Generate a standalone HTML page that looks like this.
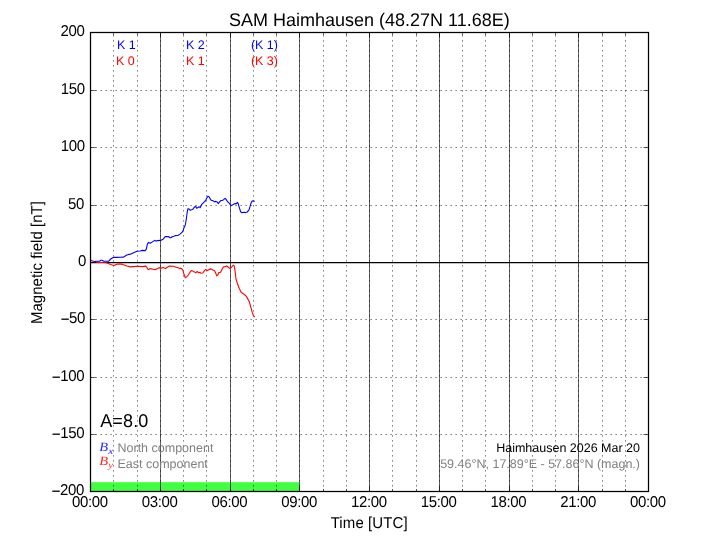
<!DOCTYPE html>
<html><head><meta charset="utf-8"><title>SAM Haimhausen</title>
<style>
html,body{margin:0;padding:0;background:#fff;}
body{width:720px;height:540px;overflow:hidden;position:relative;font-family:"Liberation Sans",sans-serif;}
svg{position:absolute;left:0;top:0;will-change:transform;}
text{font-family:"Liberation Sans",sans-serif;text-rendering:geometricPrecision;}
.m{font-family:"Liberation Serif",serif;font-style:italic;}
</style></head><body>
<svg width="720" height="540" viewBox="0 0 720 540">
<rect x="0" y="0" width="720" height="540" fill="#fff"/>
<rect x="90.0" y="482.2" width="209.25" height="9.30" fill="#40ff40"/>
<g stroke="#000" stroke-width="0.625" fill="none">
<line x1="113.5" y1="491.5" x2="113.5" y2="32.5" stroke-dasharray="1.25 3.75"/>
<line x1="137.5" y1="491.5" x2="137.5" y2="32.5" stroke-dasharray="1.25 3.75"/>
<line x1="160.5" y1="491.5" x2="160.5" y2="32.5" stroke-dasharray="1.25 3.75"/>
<line x1="160.5" y1="491.5" x2="160.5" y2="32.5"/>
<line x1="183.5" y1="491.5" x2="183.5" y2="32.5" stroke-dasharray="1.25 3.75"/>
<line x1="206.5" y1="491.5" x2="206.5" y2="32.5" stroke-dasharray="1.25 3.75"/>
<line x1="230.5" y1="491.5" x2="230.5" y2="32.5" stroke-dasharray="1.25 3.75"/>
<line x1="230.5" y1="491.5" x2="230.5" y2="32.5"/>
<line x1="253.5" y1="491.5" x2="253.5" y2="32.5" stroke-dasharray="1.25 3.75"/>
<line x1="276.5" y1="491.5" x2="276.5" y2="32.5" stroke-dasharray="1.25 3.75"/>
<line x1="299.5" y1="491.5" x2="299.5" y2="32.5" stroke-dasharray="1.25 3.75"/>
<line x1="299.5" y1="491.5" x2="299.5" y2="32.5"/>
<line x1="323.5" y1="491.5" x2="323.5" y2="32.5" stroke-dasharray="1.25 3.75"/>
<line x1="346.5" y1="491.5" x2="346.5" y2="32.5" stroke-dasharray="1.25 3.75"/>
<line x1="369.5" y1="491.5" x2="369.5" y2="32.5" stroke-dasharray="1.25 3.75"/>
<line x1="369.5" y1="491.5" x2="369.5" y2="32.5"/>
<line x1="392.5" y1="491.5" x2="392.5" y2="32.5" stroke-dasharray="1.25 3.75"/>
<line x1="416.5" y1="491.5" x2="416.5" y2="32.5" stroke-dasharray="1.25 3.75"/>
<line x1="439.5" y1="491.5" x2="439.5" y2="32.5" stroke-dasharray="1.25 3.75"/>
<line x1="439.5" y1="491.5" x2="439.5" y2="32.5"/>
<line x1="462.5" y1="491.5" x2="462.5" y2="32.5" stroke-dasharray="1.25 3.75"/>
<line x1="485.5" y1="491.5" x2="485.5" y2="32.5" stroke-dasharray="1.25 3.75"/>
<line x1="509.5" y1="491.5" x2="509.5" y2="32.5" stroke-dasharray="1.25 3.75"/>
<line x1="509.5" y1="491.5" x2="509.5" y2="32.5"/>
<line x1="532.5" y1="491.5" x2="532.5" y2="32.5" stroke-dasharray="1.25 3.75"/>
<line x1="555.5" y1="491.5" x2="555.5" y2="32.5" stroke-dasharray="1.25 3.75"/>
<line x1="578.5" y1="491.5" x2="578.5" y2="32.5" stroke-dasharray="1.25 3.75"/>
<line x1="578.5" y1="491.5" x2="578.5" y2="32.5"/>
<line x1="602.5" y1="491.5" x2="602.5" y2="32.5" stroke-dasharray="1.25 3.75"/>
<line x1="625.5" y1="491.5" x2="625.5" y2="32.5" stroke-dasharray="1.25 3.75"/>
<line x1="90.5" y1="90.5" x2="648.5" y2="90.5" stroke-dasharray="1.25 3.75"/>
<line x1="90.5" y1="147.5" x2="648.5" y2="147.5" stroke-dasharray="1.25 3.75"/>
<line x1="90.5" y1="205.5" x2="648.5" y2="205.5" stroke-dasharray="1.25 3.75"/>
<line x1="90.5" y1="319.5" x2="648.5" y2="319.5" stroke-dasharray="1.25 3.75"/>
<line x1="90.5" y1="377.5" x2="648.5" y2="377.5" stroke-dasharray="1.25 3.75"/>
<line x1="90.5" y1="434.5" x2="648.5" y2="434.5" stroke-dasharray="1.25 3.75"/>
</g>
<line x1="90.0" y1="262.5" x2="648.0" y2="262.5" stroke="#000" stroke-width="1.25"/>
<polyline points="90.8,260.2 91.5,260.4 93.6,261.2 96.5,262.1 98.6,262.5 104.0,262.5 106.5,262.7 109.0,263.8 111.5,264.8 114.0,265.6 117.4,264.1 121.3,263.9 124.1,264.9 126.9,266.0 130.2,266.9 133.6,266.6 138.0,266.3 142.4,266.6 145.8,266.1 146.9,267.4 148.2,269.7 150.2,268.6 153.0,269.3 155.2,269.7 158.0,268.2 160.0,267.6 161.7,268.1 163.3,267.6 165.6,268.6 167.2,267.2 169.4,266.1 173.3,266.3 176.1,267.2 178.9,268.1 181.7,268.6 182.8,270.0 183.9,273.9 185.3,277.8 186.7,276.9 188.3,275.0 190.0,272.2 191.3,270.6 192.8,271.1 194.4,271.9 195.8,272.8 197.2,271.4 198.7,272.8 199.8,272.2 201.1,273.3 202.8,273.0 204.4,270.6 205.8,269.4 207.2,270.6 209.4,269.4 211.1,268.9 212.8,270.0 214.4,270.6 215.6,272.8 216.7,275.9 217.8,275.0 218.9,272.6 220.6,272.2 222.2,268.9 223.6,266.7 225.0,266.7 226.7,265.9 228.3,267.2 230.0,268.6 231.7,267.0 233.3,265.2 234.2,265.9 235.0,270.6 235.6,275.5 236.0,279.2 237.4,283.5 239.4,288.8 241.3,292.6 243.2,293.6 245.6,295.5 247.6,298.4 249.5,302.3 250.9,307.6 252.4,312.9 253.3,315.3 254.8,317.2" fill="none" stroke="#ff0000" stroke-width="1.1" stroke-linejoin="round"/>
<polyline points="90.5,262.3 94.0,262.0 96.0,261.3 99.5,261.3 101.0,260.3 102.2,260.3 103.6,261.3 108.5,261.3 110.7,259.0 112.8,257.7 113.6,257.4 116.9,257.4 120.2,257.2 123.6,257.1 126.3,255.2 128.6,254.4 130.8,254.1 133.6,252.7 136.9,251.3 140.2,251.0 142.4,250.4 145.2,250.6 146.3,249.1 147.4,244.1 148.6,242.4 150.2,243.3 152.4,241.9 154.7,240.4 156.1,241.1 157.5,240.6 160.6,240.4 163.1,239.2 165.3,236.6 168.3,236.5 170.0,237.7 170.8,237.8 172.2,236.7 173.9,236.2 175.6,235.6 178.3,235.3 180.3,233.9 182.2,232.2 183.3,230.0 184.2,227.2 185.3,225.0 186.1,220.5 187.2,212.2 188.0,208.7 188.9,208.9 190.2,210.3 191.7,209.7 193.1,208.9 194.4,207.2 195.6,206.3 196.7,208.3 197.8,207.8 198.9,206.7 200.2,207.6 201.7,204.4 203.3,202.8 205.3,200.9 206.7,198.3 207.8,196.3 209.1,196.7 210.2,198.9 211.3,200.3 212.8,200.6 214.4,201.7 215.8,201.4 217.2,202.0 218.3,203.6 219.4,202.2 220.8,200.6 222.8,200.3 223.9,199.4 225.0,198.3 226.1,199.4 227.2,201.1 228.9,202.8 230.6,205.0 231.7,205.6 233.3,204.4 235.0,203.6 236.1,203.9 237.4,202.4 238.3,203.9 239.4,207.8 240.6,211.7 241.7,212.6 243.9,212.2 245.6,212.6 247.2,212.0 248.9,210.2 250.0,206.7 251.1,202.8 252.2,201.1 253.3,200.8 254.7,201.4" fill="none" stroke="#0000ff" stroke-width="1.1" stroke-linejoin="round"/>
<g stroke="#000" stroke-width="0.625">
<line x1="90.5" y1="491.5" x2="90.5" y2="486.5"/><line x1="90.5" y1="32.5" x2="90.5" y2="37.5"/>
<line x1="113.5" y1="491.5" x2="113.5" y2="489.0"/><line x1="113.5" y1="32.5" x2="113.5" y2="35.0"/>
<line x1="137.5" y1="491.5" x2="137.5" y2="489.0"/><line x1="137.5" y1="32.5" x2="137.5" y2="35.0"/>
<line x1="160.5" y1="491.5" x2="160.5" y2="486.5"/><line x1="160.5" y1="32.5" x2="160.5" y2="37.5"/>
<line x1="183.5" y1="491.5" x2="183.5" y2="489.0"/><line x1="183.5" y1="32.5" x2="183.5" y2="35.0"/>
<line x1="206.5" y1="491.5" x2="206.5" y2="489.0"/><line x1="206.5" y1="32.5" x2="206.5" y2="35.0"/>
<line x1="230.5" y1="491.5" x2="230.5" y2="486.5"/><line x1="230.5" y1="32.5" x2="230.5" y2="37.5"/>
<line x1="253.5" y1="491.5" x2="253.5" y2="489.0"/><line x1="253.5" y1="32.5" x2="253.5" y2="35.0"/>
<line x1="276.5" y1="491.5" x2="276.5" y2="489.0"/><line x1="276.5" y1="32.5" x2="276.5" y2="35.0"/>
<line x1="299.5" y1="491.5" x2="299.5" y2="486.5"/><line x1="299.5" y1="32.5" x2="299.5" y2="37.5"/>
<line x1="323.5" y1="491.5" x2="323.5" y2="489.0"/><line x1="323.5" y1="32.5" x2="323.5" y2="35.0"/>
<line x1="346.5" y1="491.5" x2="346.5" y2="489.0"/><line x1="346.5" y1="32.5" x2="346.5" y2="35.0"/>
<line x1="369.5" y1="491.5" x2="369.5" y2="486.5"/><line x1="369.5" y1="32.5" x2="369.5" y2="37.5"/>
<line x1="392.5" y1="491.5" x2="392.5" y2="489.0"/><line x1="392.5" y1="32.5" x2="392.5" y2="35.0"/>
<line x1="416.5" y1="491.5" x2="416.5" y2="489.0"/><line x1="416.5" y1="32.5" x2="416.5" y2="35.0"/>
<line x1="439.5" y1="491.5" x2="439.5" y2="486.5"/><line x1="439.5" y1="32.5" x2="439.5" y2="37.5"/>
<line x1="462.5" y1="491.5" x2="462.5" y2="489.0"/><line x1="462.5" y1="32.5" x2="462.5" y2="35.0"/>
<line x1="485.5" y1="491.5" x2="485.5" y2="489.0"/><line x1="485.5" y1="32.5" x2="485.5" y2="35.0"/>
<line x1="509.5" y1="491.5" x2="509.5" y2="486.5"/><line x1="509.5" y1="32.5" x2="509.5" y2="37.5"/>
<line x1="532.5" y1="491.5" x2="532.5" y2="489.0"/><line x1="532.5" y1="32.5" x2="532.5" y2="35.0"/>
<line x1="555.5" y1="491.5" x2="555.5" y2="489.0"/><line x1="555.5" y1="32.5" x2="555.5" y2="35.0"/>
<line x1="578.5" y1="491.5" x2="578.5" y2="486.5"/><line x1="578.5" y1="32.5" x2="578.5" y2="37.5"/>
<line x1="602.5" y1="491.5" x2="602.5" y2="489.0"/><line x1="602.5" y1="32.5" x2="602.5" y2="35.0"/>
<line x1="625.5" y1="491.5" x2="625.5" y2="489.0"/><line x1="625.5" y1="32.5" x2="625.5" y2="35.0"/>
<line x1="648.5" y1="491.5" x2="648.5" y2="486.5"/><line x1="648.5" y1="32.5" x2="648.5" y2="37.5"/>
<line x1="90.5" y1="491.5" x2="95.5" y2="491.5"/><line x1="648.5" y1="491.5" x2="643.5" y2="491.5"/>
<line x1="90.5" y1="434.5" x2="95.5" y2="434.5"/><line x1="648.5" y1="434.5" x2="643.5" y2="434.5"/>
<line x1="90.5" y1="377.5" x2="95.5" y2="377.5"/><line x1="648.5" y1="377.5" x2="643.5" y2="377.5"/>
<line x1="90.5" y1="319.5" x2="95.5" y2="319.5"/><line x1="648.5" y1="319.5" x2="643.5" y2="319.5"/>
<line x1="90.5" y1="262.5" x2="95.5" y2="262.5"/><line x1="648.5" y1="262.5" x2="643.5" y2="262.5"/>
<line x1="90.5" y1="205.5" x2="95.5" y2="205.5"/><line x1="648.5" y1="205.5" x2="643.5" y2="205.5"/>
<line x1="90.5" y1="147.5" x2="95.5" y2="147.5"/><line x1="648.5" y1="147.5" x2="643.5" y2="147.5"/>
<line x1="90.5" y1="90.5" x2="95.5" y2="90.5"/><line x1="648.5" y1="90.5" x2="643.5" y2="90.5"/>
<line x1="90.5" y1="32.5" x2="95.5" y2="32.5"/><line x1="648.5" y1="32.5" x2="643.5" y2="32.5"/>
</g>
<rect x="90.5" y="32.5" width="558.0" height="459.0" fill="none" stroke="#000" stroke-width="1.25"/>
<text transform="translate(89.83,506.90) scale(1,1.05)" font-size="15px" text-anchor="middle" fill="#000" letter-spacing="-0.34">00:00</text>
<text transform="translate(159.58,506.90) scale(1,1.05)" font-size="15px" text-anchor="middle" fill="#000" letter-spacing="-0.34">03:00</text>
<text transform="translate(229.33,506.90) scale(1,1.05)" font-size="15px" text-anchor="middle" fill="#000" letter-spacing="-0.34">06:00</text>
<text transform="translate(299.08,506.90) scale(1,1.05)" font-size="15px" text-anchor="middle" fill="#000" letter-spacing="-0.34">09:00</text>
<text transform="translate(368.83,506.90) scale(1,1.05)" font-size="15px" text-anchor="middle" fill="#000" letter-spacing="-0.34">12:00</text>
<text transform="translate(438.58,506.90) scale(1,1.05)" font-size="15px" text-anchor="middle" fill="#000" letter-spacing="-0.34">15:00</text>
<text transform="translate(508.33,506.90) scale(1,1.05)" font-size="15px" text-anchor="middle" fill="#000" letter-spacing="-0.34">18:00</text>
<text transform="translate(578.08,506.90) scale(1,1.05)" font-size="15px" text-anchor="middle" fill="#000" letter-spacing="-0.34">21:00</text>
<text transform="translate(647.83,506.90) scale(1,1.05)" font-size="15px" text-anchor="middle" fill="#000" letter-spacing="-0.34">00:00</text>
<text transform="translate(84.00,495.00) scale(1,1.05)" font-size="15px" text-anchor="end" fill="#000" letter-spacing="-0.34">200</text>
<rect x="52.30" y="490.55" width="7.4" height="1.3" fill="#000"/>
<text transform="translate(84.20,438.00) scale(1,1.05)" font-size="15px" text-anchor="end" fill="#000" letter-spacing="-0.34">150</text>
<rect x="52.50" y="433.55" width="7.4" height="1.3" fill="#000"/>
<text transform="translate(84.20,381.00) scale(1,1.05)" font-size="15px" text-anchor="end" fill="#000" letter-spacing="-0.34">100</text>
<rect x="52.50" y="376.55" width="7.4" height="1.3" fill="#000"/>
<text transform="translate(85.10,323.00) scale(1,1.05)" font-size="15px" text-anchor="end" fill="#000" letter-spacing="-0.34">50</text>
<rect x="61.40" y="318.55" width="7.4" height="1.3" fill="#000"/>
<text transform="translate(85.90,266.00) scale(1,1.05)" font-size="15px" text-anchor="end" fill="#000" letter-spacing="-0.34">0</text>
<text transform="translate(84.00,209.00) scale(1,1.05)" font-size="15px" text-anchor="end" fill="#000" letter-spacing="-0.34">50</text>
<text transform="translate(84.80,151.00) scale(1,1.05)" font-size="15px" text-anchor="end" fill="#000" letter-spacing="-0.34">100</text>
<text transform="translate(84.80,94.00) scale(1,1.05)" font-size="15px" text-anchor="end" fill="#000" letter-spacing="-0.34">150</text>
<text transform="translate(84.50,36.00) scale(1,1.05)" font-size="15px" text-anchor="end" fill="#000" letter-spacing="-0.34">200</text>
<text transform="translate(369.20,527.50) scale(1,1.05)" font-size="15px" text-anchor="middle" fill="#000" letter-spacing="0.1">Time [UTC]</text>
<text transform="translate(42.00,262.60) rotate(-90) scale(1,1.05)" font-size="15px" text-anchor="middle" fill="#000" letter-spacing="0.02">Magnetic field [nT]</text>
<text transform="translate(369.30,26.00) scale(1,1.02)" font-size="18px" text-anchor="middle" fill="#000">SAM Haimhausen (48.27N 11.68E)</text>
<text transform="translate(116.90,49.00)" font-size="12.5px" text-anchor="start" fill="#0000ff">K 1</text>
<text transform="translate(115.90,65.00)" font-size="12.5px" text-anchor="start" fill="#ff0000">K 0</text>
<text transform="translate(185.90,49.00)" font-size="12.5px" text-anchor="start" fill="#0000ff">K 2</text>
<text transform="translate(185.90,65.00)" font-size="12.5px" text-anchor="start" fill="#ff0000">K 1</text>
<text transform="translate(250.90,49.00)" font-size="12.5px" text-anchor="start" fill="#0000ff">(K 1)</text>
<text transform="translate(250.90,65.00)" font-size="12.5px" text-anchor="start" fill="#ff0000">(K 3)</text>
<text transform="translate(100.20,427.00) scale(1,1.03)" font-size="18px" text-anchor="start" fill="#000" letter-spacing="0.15">A=8.0</text>
<text transform="translate(99.30,450.80) scale(1.16,1)" font-size="12.5px" text-anchor="start" fill="#0000ff" class="m" fill-opacity="0.85">B</text>
<text transform="translate(108.20,453.80) scale(1.2,1)" font-size="9.5px" text-anchor="start" fill="#0000ff" class="m" fill-opacity="0.85">x</text>
<text transform="translate(99.30,464.70) scale(1.16,1)" font-size="12.5px" text-anchor="start" fill="#ff0000" class="m" fill-opacity="0.85">B</text>
<text transform="translate(108.20,467.50) scale(1.1,1)" font-size="9.5px" text-anchor="start" fill="#ff0000" class="m" fill-opacity="0.85">y</text>
<text transform="translate(117.50,452.00)" font-size="12.5px" text-anchor="start" fill="#808080">North component</text>
<text transform="translate(117.50,468.00)" font-size="12.5px" text-anchor="start" fill="#808080">East component</text>
<text transform="translate(640.00,452.00)" font-size="12.5px" text-anchor="end" fill="#000">Haimhausen 2026 Mar 20</text>
<text transform="translate(640.00,468.00)" font-size="12.5px" text-anchor="end" fill="#808080">59.46°N, 17.89°E - 57.86°N (magn.)</text>
</svg>
</body></html>
